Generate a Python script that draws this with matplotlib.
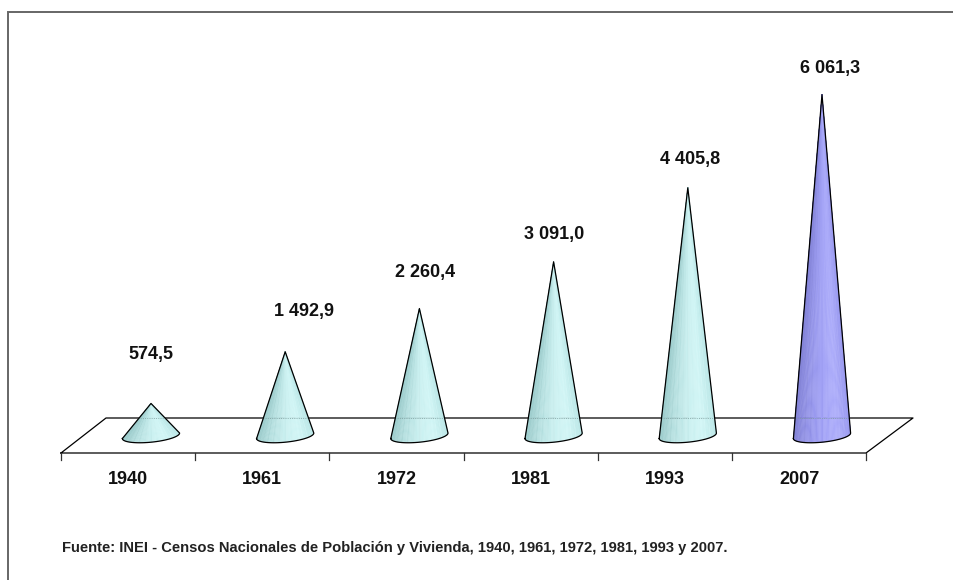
import numpy as np
import matplotlib
matplotlib.use('Agg')
import matplotlib.pyplot as plt
from matplotlib.collections import PolyCollection
from matplotlib.colors import LinearSegmentedColormap
from matplotlib.transforms import Affine2D

plt.rcParams['font.family'] = ['Liberation Sans']

years = ['1940', '1961', '1972', '1981', '1993', '2007']
values = [574.5, 1492.9, 2260.4, 3091.0, 4405.8, 6061.3]
labels = ['574,5', '1 492,9', '2 260,4', '3 091,0', '4 405,8', '6 061,3']
source = 'Fuente: INEI - Censos Nacionales de Población y Vivienda, 1940, 1961, 1972, 1981, 1993 y 2007.'

# layout in pixels of the 954x580 picture
W, H = 954, 580
STEP = 134.2
X0 = 151.0
Y0 = 435.8
PX_PER_UNIT = 0.0563
HALF_W = 28.6
label_dx = [0, 19, 6, 1, 2, 8]
label_gap = [49, 40, 36, 27, 28, 26]

teal = LinearSegmentedColormap.from_list('teal', ['#bce8e8', '#d2f6f6', '#caf0f0', '#b8e2e2', '#9ccccc'])
blue = LinearSegmentedColormap.from_list('blue', ['#9a9af0', '#adadfb', '#a2a2f6', '#9494ea', '#8282d6'])

fig = plt.figure(figsize=(9.54, 5.8), dpi=100)
ax = fig.add_axes([0, 0, 1, 1])
ax.set_xlim((0 - X0) / STEP, (W - X0) / STEP)
ax.set_ylim((Y0 - H) / PX_PER_UNIT, Y0 / PX_PER_UNIT)
ax.axis('off')

# pixel coordinates, origin top left
px = Affine2D().scale(1, -1).translate(0, H)

# frame, only left and top
ax.plot([8, 8, W], [H, 12, 12], color='#666666', lw=1.4, transform=px, solid_joinstyle='miter')

# floor
ax.plot([61, 106, 913, 866, 61], [453, 418, 418, 453, 453], color='black', lw=0.9, transform=px)
for i in range(7):
    tx = 61 + i * 134.2
    ax.plot([tx, tx], [453, 460], color='#333333', lw=0.9, transform=px)

half = HALF_W / STEP
b = 6.4 / PX_PER_UNIT
tilt = 2.75 / PX_PER_UNIT
t = np.linspace(np.pi, 0, 71)

for i, v in enumerate(values):
    base_x = i + half * np.cos(t)
    base_y = -b * np.sin(t) + tilt * np.cos(t)
    # wedges from the apex give the stripes of the original
    polys = [[(i, v), (base_x[k], base_y[k]), (base_x[k + 1], base_y[k + 1])] for k in range(len(t) - 1)]
    u = (1 - np.cos(t[:-1])) / 2
    u = u + 0.08 * (np.arange(len(u)) % 5 == 0) - 0.03 * (np.arange(len(u)) % 3 == 0)
    cmap = blue if i == len(values) - 1 else teal
    cols = cmap(np.clip(u, 0, 1))
    ax.add_collection(PolyCollection(polys, facecolors=cols, edgecolors=cols, linewidths=0.3, zorder=3))

    # back floor line seen through the cone
    line_v = (Y0 - 418) / PX_PER_UNIT
    frac = (v - line_v) / v
    if frac > 0:
        ax.plot([i - half * frac, i + half * frac], [line_v, line_v], color='#7f9f9f', lw=0.6, ls=':', zorder=4)

    # outline
    ax.plot(np.r_[base_x, i, base_x[0]], np.r_[base_y, v, base_y[0]], color='black', lw=0.9, zorder=5,
            solid_joinstyle='round')

    ax.text(i * STEP + X0 + label_dx[i], Y0 - v * PX_PER_UNIT - label_gap[i], labels[i], transform=px,
            ha='center', va='center', fontsize=13, fontweight='bold', color='#111111')
    ax.text(i * STEP + X0 - 23, 480, years[i], transform=px, ha='center', va='center', fontsize=13,
            fontweight='bold', color='#111111')

ax.text(62, 548, source, transform=px, ha='left', va='center', fontsize=10.6, fontweight='bold', color='#222222')

fig.savefig('out.png', dpi=100)
